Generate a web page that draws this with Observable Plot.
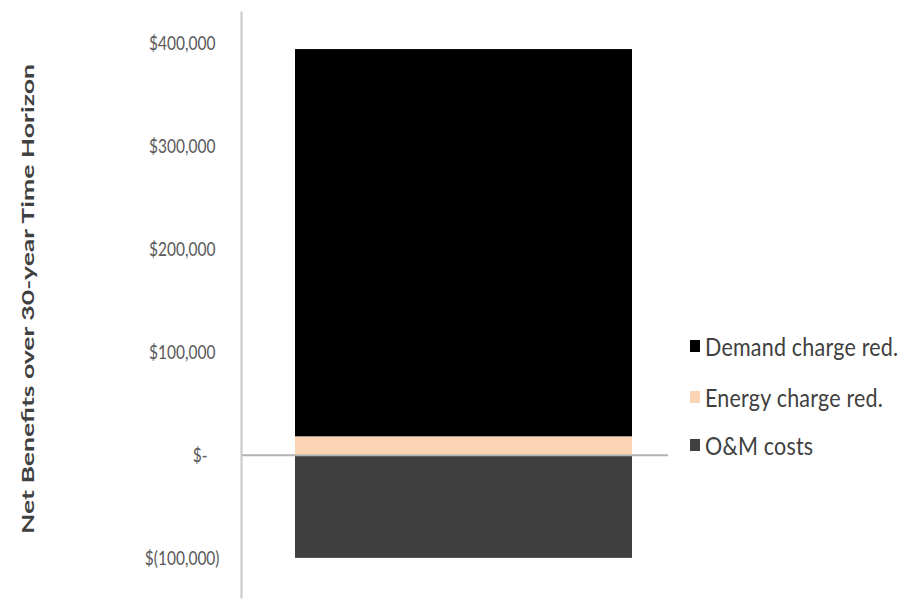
<!DOCTYPE html>
<html>
<head>
<meta charset="utf-8">
<script src="https://cdn.jsdelivr.net/npm/d3@7"></script>
<script src="https://cdn.jsdelivr.net/npm/@observablehq/plot@0.6"></script>
<style>
  html, body { margin: 0; padding: 0; background: #fff; }
  #wrap { position: relative; width: 905px; height: 607px; font-family: Lato, "Open Sans", sans-serif; overflow: hidden; }
  #legend { position: absolute; left: 690px; top: 0; }
  .item { position: absolute; left: 0; white-space: nowrap; display: flex; align-items: center; color: #404040; font-size: 21.5px; }
  .item .lbl { display: inline-block; transform: scaleY(1.2); letter-spacing: 0.2px; }
  .sw { width: 10px; height: 12px; margin-right: 5px; display: inline-block; }
  #ytitle { position: absolute; left: 0; top: 0; white-space: nowrap; font-weight: bold; font-size: 17px; color: #404040; transform-origin: 0 0; }
</style>
</head>
<body>
<div id="wrap"></div>
<script>
// Data
const categories = [""];
const seriesNames = ["O&M costs", "Energy charge red.", "Demand charge red."];
const seriesValues = [-100000, 18000, 376000];
const seriesColors = ["#404040", "#fbd4b4", "#000000"];
const legendOrder = ["Demand charge red.", "Energy charge red.", "O&M costs"];
const tickValues = [-100000, 0, 100000, 200000, 300000, 400000];
const tickLabels = ["$(100,000)", "$-\u00a0\u00a0\u00a0", "$100,000\u00a0", "$200,000\u00a0", "$300,000\u00a0", "$400,000\u00a0"];
const yTitle = "Net Benefits over 30-year Time Horizon";

const data = seriesNames.map((s, i) => ({cat: categories[0], series: s, value: seriesValues[i]}));
const fmt = new Map(tickValues.map((v, i) => [v, tickLabels[i]]));

const chart = Plot.plot({
  width: 905,
  height: 607,
  marginTop: 12,
  marginBottom: 10,
  marginLeft: 241,
  marginRight: 237,
  style: {fontFamily: "Lato, 'Open Sans', sans-serif", background: "transparent"},
  x: {type: "band", domain: categories, paddingInner: 0, paddingOuter: 0.1317, align: 0.6, axis: null},
  y: {domain: [-138000, 430000], axis: null},
  color: {domain: seriesNames, range: seriesColors},
  marks: [
    Plot.barY(data, Plot.stackY({x: "cat", y: "value", fill: "series"})),
    Plot.ruleY([0], {stroke: "#b3b3b3", strokeWidth: 2}),
    Plot.frame({anchor: "left", stroke: "#c8c8c8", strokeWidth: 2}),
    Plot.axisY({ticks: tickValues, tickFormat: d => fmt.get(d), tickSize: 0, tickPadding: 22, fontSize: 15.5, fill: "#595959", label: null})
  ]
});

const wrap = document.getElementById("wrap");
wrap.appendChild(chart);

// vertically stretch the tick labels like the reference image
chart.querySelectorAll('g[aria-label="y-axis tick label"] text').forEach(t => {
  t.setAttribute("transform", (t.getAttribute("transform") || "") + " scale(1,1.3)");
});

// y title
const title = document.createElement("div");
title.id = "ytitle";
title.textContent = yTitle;
wrap.appendChild(title);
const tw = title.getBoundingClientRect().width;
const th = title.getBoundingClientRect().height;
const targetLen = 470, cx = 27, cy = 299;
const k = targetLen / tw;
title.style.transform = `translate(${cx - th / 2}px, ${cy + targetLen / 2}px) rotate(-90deg) scaleX(${k})`;

// legend
const legend = document.createElement("div");
legend.id = "legend";
const legendY = [346, 397, 445];
legendOrder.forEach((name, i) => {
  const item = document.createElement("div");
  item.className = "item";
  item.style.top = (legendY[i] - 14) + "px";
  item.style.height = "28px";
  const sw = document.createElement("span");
  sw.className = "sw";
  sw.style.background = seriesColors[seriesNames.indexOf(name)];
  const t = document.createElement("span");
  t.className = "lbl";
  t.textContent = name;
  item.appendChild(sw);
  item.appendChild(t);
  legend.appendChild(item);
});
wrap.appendChild(legend);
</script>
</body>
</html>
